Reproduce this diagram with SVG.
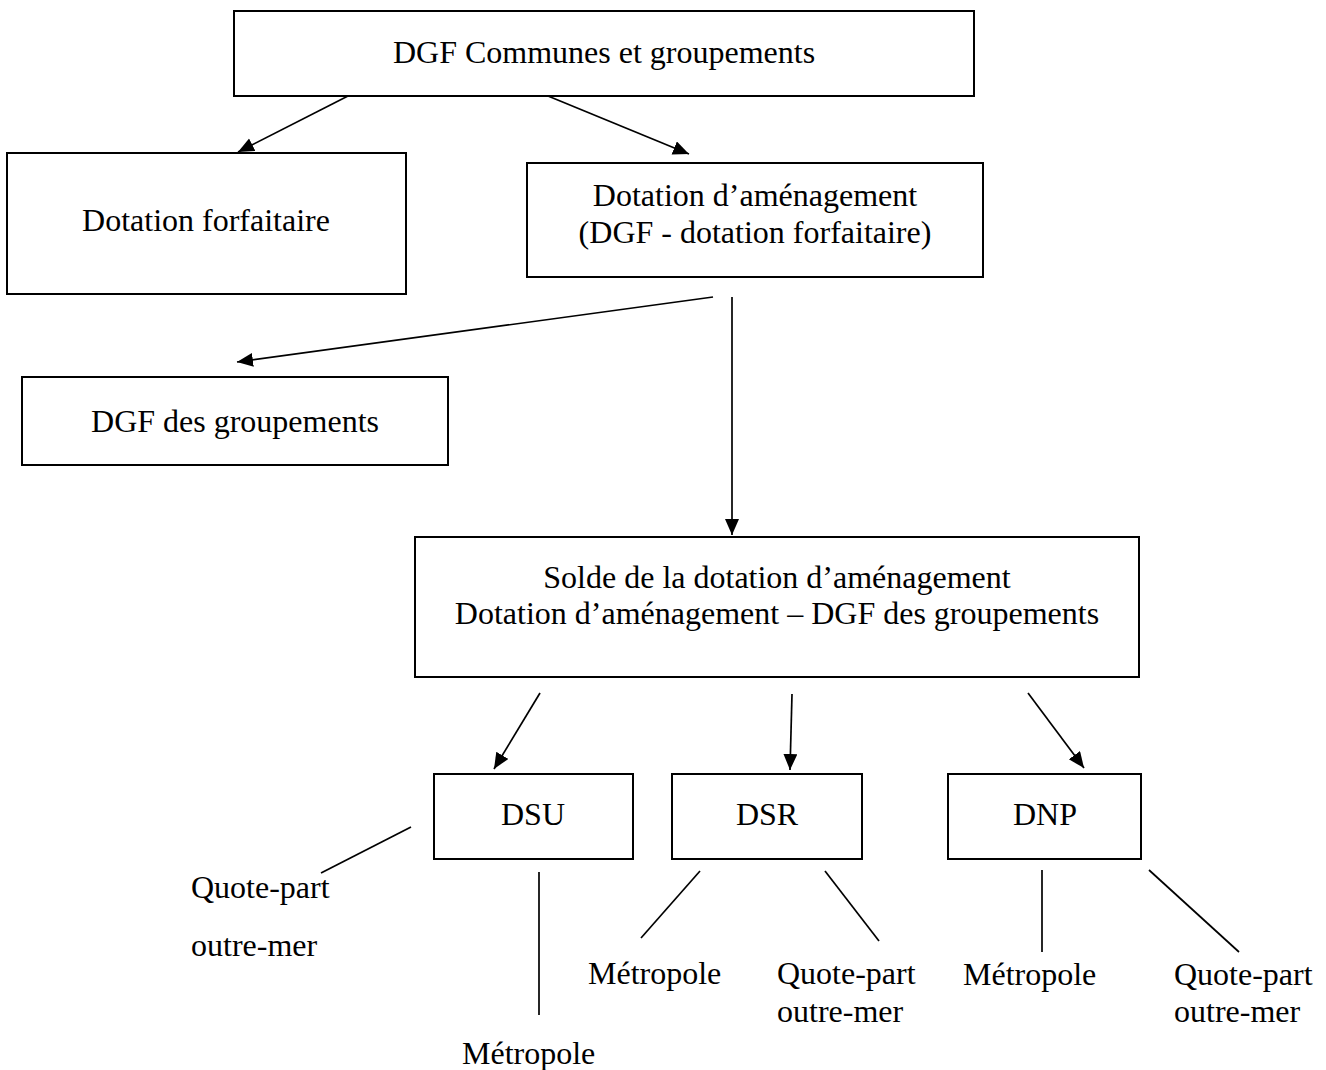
<svg xmlns="http://www.w3.org/2000/svg" width="1326" height="1070" viewBox="0 0 1326 1070">
<style>
.box{fill:#fff;stroke:#000;stroke-width:2}
.t{font-family:"Liberation Serif","Times New Roman",serif;font-size:32px;fill:#000}
.c{text-anchor:middle}
.ln{stroke:#000;stroke-width:1.7;fill:none}
.ar{marker-end:url(#ah)}
</style>
<defs>
<marker id="ah" markerUnits="userSpaceOnUse" markerWidth="17" markerHeight="15" refX="16" refY="7" orient="auto">
<path d="M0,0 L16,7 L0,14 z" fill="#000"/>
</marker>
</defs>
<rect width="1326" height="1070" fill="#fff"/>
<g id="n-dgf">
<rect class="box" x="234" y="11" width="740" height="85"/>
<text class="t c" x="604" y="63">DGF Communes et groupements</text>
</g>
<g id="n-forfaitaire">
<rect class="box" x="7" y="153" width="399" height="141"/>
<text class="t c" x="206" y="231">Dotation forfaitaire</text>
</g>
<g id="n-amenagement">
<rect class="box" x="527" y="163" width="456" height="114"/>
<text class="t c" x="755" y="206">Dotation d’aménagement</text>
<text class="t c" x="755" y="243">(DGF - dotation forfaitaire)</text>
</g>
<g id="n-groupements">
<rect class="box" x="22" y="377" width="426" height="88"/>
<text class="t c" x="235" y="432">DGF des groupements</text>
</g>
<g id="n-solde">
<rect class="box" x="415" y="537" width="724" height="140"/>
<text class="t c" x="777" y="588">Solde de la dotation d’aménagement</text>
<text class="t c" x="777" y="624">Dotation d’aménagement – DGF des groupements</text>
</g>
<g id="n-dsu">
<rect class="box" x="434" y="774" width="199" height="85"/>
<text class="t c" x="533" y="825">DSU</text>
</g>
<g id="n-dsr">
<rect class="box" x="672" y="774" width="190" height="85"/>
<text class="t c" x="767" y="825">DSR</text>
</g>
<g id="n-dnp">
<rect class="box" x="948" y="774" width="193" height="85"/>
<text class="t c" x="1045" y="825">DNP</text>
</g>
<g id="n-dsu-qp">
<text class="t" x="191" y="898">Quote-part</text>
<text class="t" x="191" y="956">outre-mer</text>
</g>
<g id="n-dsu-met">
<text class="t" x="462" y="1064">Métropole</text>
</g>
<g id="n-dsr-met">
<text class="t" x="588" y="984">Métropole</text>
</g>
<g id="n-dsr-qp">
<text class="t" x="777" y="984">Quote-part</text>
<text class="t" x="777" y="1022">outre-mer</text>
</g>
<g id="n-dnp-met">
<text class="t" x="963" y="985">Métropole</text>
</g>
<g id="n-dnp-qp">
<text class="t" x="1174" y="985">Quote-part</text>
<text class="t" x="1174" y="1022">outre-mer</text>
</g>
<g id="connectors">
<line class="ln ar" x1="348" y1="96" x2="238" y2="152"/>
<line class="ln ar" x1="548" y1="96" x2="689" y2="154"/>
<line class="ln ar" x1="713" y1="297" x2="237" y2="362"/>
<line class="ln ar" x1="732" y1="297" x2="732" y2="535"/>
<line class="ln ar" x1="540" y1="693" x2="494" y2="769"/>
<line class="ln ar" x1="792" y1="694" x2="790" y2="770"/>
<line class="ln ar" x1="1028" y1="693" x2="1084" y2="768"/>
<line class="ln" x1="411" y1="827" x2="321" y2="873"/>
<line class="ln" x1="539" y1="872" x2="539" y2="1015"/>
<line class="ln" x1="700" y1="871" x2="641" y2="938"/>
<line class="ln" x1="825" y1="871" x2="879" y2="941"/>
<line class="ln" x1="1042" y1="870" x2="1042" y2="952"/>
<line class="ln" x1="1149" y1="870" x2="1239" y2="952"/>
</g>
</svg>
